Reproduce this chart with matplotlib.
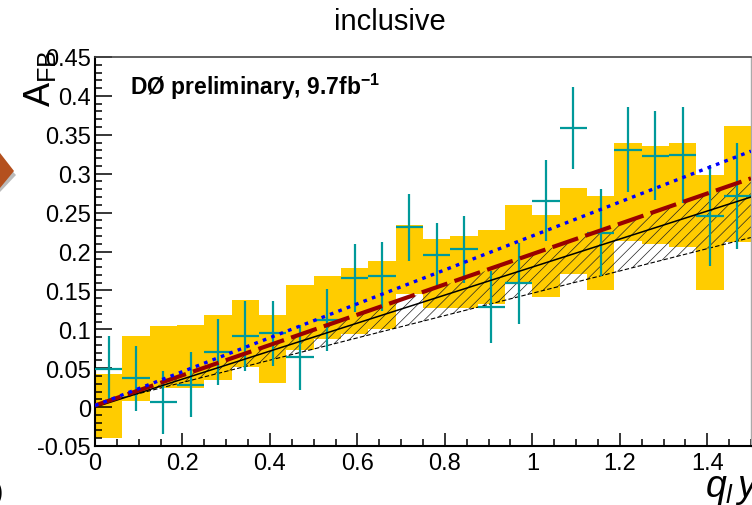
import numpy as np
import matplotlib
matplotlib.use("Agg")
import matplotlib.pyplot as plt
from matplotlib.ticker import MultipleLocator, FuncFormatter
from matplotlib.patches import Polygon

plt.rcParams['font.family'] = ['Liberation Sans', 'DejaVu Sans']
plt.rcParams['mathtext.fontset'] = 'custom'
plt.rcParams['mathtext.rm'] = 'Liberation Sans'
plt.rcParams['mathtext.it'] = 'Liberation Sans:italic'
plt.rcParams['mathtext.bf'] = 'Liberation Sans:bold'
plt.rcParams['hatch.linewidth'] = 0.5

# q_l*y_l bins (width 0.0625)
bin_width = 0.0625
bin_centers = [0.03125, 0.09375, 0.15625, 0.21875, 0.28125, 0.34375, 0.40625, 0.46875,
               0.53125, 0.59375, 0.65625, 0.71875, 0.78125, 0.84375, 0.90625, 0.96875,
               1.03125, 1.09375, 1.15625, 1.21875, 1.28125, 1.34375, 1.40625, 1.46875]

# measured A_FB with stat. errors
data_y = [0.049, 0.037, 0.006, 0.029, 0.071, 0.091, 0.095, 0.064,
          0.112, 0.166, 0.168, 0.231, 0.196, 0.203, 0.129, 0.159,
          0.265, 0.359, 0.224, 0.331, 0.323, 0.324, 0.246, 0.271]
data_err = [0.042, 0.042, 0.041, 0.042, 0.042, 0.045, 0.042, 0.042,
            0.040, 0.044, 0.044, 0.043, 0.041, 0.043, 0.046, 0.052,
            0.052, 0.053, 0.056, 0.055, 0.057, 0.062, 0.065, 0.068]

# yellow band (low / high edge per bin)
band_lo = [-0.040, 0.008, 0.024, 0.024, 0.035, 0.051, 0.031, 0.073,
           0.088, 0.094, 0.100, 0.146, 0.127, 0.128, 0.132, 0.158,
           0.142, 0.171, 0.151, 0.214, 0.210, 0.206, 0.151, 0.212]
band_hi = [0.043, 0.091, 0.104, 0.106, 0.118, 0.138, 0.118, 0.157,
           0.169, 0.179, 0.188, 0.234, 0.216, 0.220, 0.228, 0.260,
           0.247, 0.282, 0.271, 0.340, 0.336, 0.340, 0.298, 0.361]

# linear predictions
fit_x = [0.0, 1.5]
sm_y = [0.0, 0.270]
hatch_lo = [0.003, 0.218]
hatch_hi = [0.0, 0.294]
red_y = [0.002, 0.294]
blue_y = [0.002, 0.329]

W, H = 752, 506
fig = plt.figure(figsize=(W / 100, H / 100), dpi=100)
ax = fig.add_axes([95 / W, (H - 447) / H, 656 / W, 389 / H])

lo = np.array(band_lo)
hi = np.array(band_hi)
ax.bar(bin_centers, hi - lo, bottom=lo, width=bin_width, color='#ffcc00',
       edgecolor='none', linewidth=0, zorder=1)

ax.fill_between(fit_x, hatch_lo, hatch_hi, facecolor='none', edgecolor='#222222',
                hatch='///', linewidth=0, zorder=2)
ax.plot(fit_x, hatch_lo, color='black', lw=0.8, dashes=(4, 2), zorder=2.2)

ax.errorbar(bin_centers, data_y, yerr=data_err, xerr=bin_width / 2, fmt='none',
            ecolor='#00999a', elinewidth=1.6, capsize=0, zorder=3)

ax.plot(fit_x, sm_y, color='black', lw=1.1, zorder=4)
ax.plot(fit_x, red_y, color='#990000', lw=3.0, dashes=(6.5, 1.8),
        solid_capstyle='butt', dash_capstyle='butt', zorder=5)
ax.plot(fit_x, blue_y, color='#0000ff', lw=2.4, dashes=(1.1, 1.6),
        dash_capstyle='butt', zorder=6)

ax.set_xlim(0, 1.5)
ax.set_ylim(-0.05, 0.45)

ax.xaxis.set_major_locator(MultipleLocator(0.2))
ax.xaxis.set_minor_locator(MultipleLocator(0.05))
ax.yaxis.set_major_locator(MultipleLocator(0.05))
ax.yaxis.set_minor_locator(MultipleLocator(0.01))
fmt = FuncFormatter(lambda v, p: '%g' % round(v, 3))
ax.xaxis.set_major_formatter(fmt)
ax.yaxis.set_major_formatter(fmt)

ax.tick_params(axis='both', which='both', direction='in', top=False, right=False,
               width=1.1, labelsize=17, colors='black')
ax.tick_params(axis='x', which='major', length=9.5, pad=4)
ax.tick_params(axis='x', which='minor', length=4.8)
ax.tick_params(axis='y', which='major', length=12, pad=3)
ax.tick_params(axis='y', which='minor', length=4.8)

ax.spines['left'].set_linewidth(1.5)
ax.spines['bottom'].set_linewidth(1.5)
ax.spines['top'].set_color('#444444')
ax.spines['top'].set_linewidth(1.2)
ax.spines['right'].set_color('#aaaaaa')
ax.spines['right'].set_linewidth(1.0)

fig.text(130 / W, (H - 95) / H, r'DØ preliminary, 9.7fb$^{\mathbf{-1}}$', fontsize=16.5,
         fontweight='bold', ha='left', va='baseline')

fig.text(390 / W, (H - 29.5) / H, 'inclusive', fontsize=21, ha='center', va='baseline')
fig.text(39.5 / W, (H - 50) / H, r'$\mathrm{A}_{\mathrm{FB}}$', rotation=90,
         ha='center', va='top', fontsize=26)
fig.text(705 / W, (H - 497) / H, r'$q_l\,y_l$', fontsize=27, ha='left', va='baseline')

# slide arrow peeking in from the left, and a stray bracket below
shadow = Polygon([(0, H - 159), (16, H - 176), (0, H - 193)], closed=True,
                 facecolor='#bbbbbb', edgecolor='none', transform=None)
arrow = Polygon([(0, H - 154), (14, H - 172), (0, H - 189)], closed=True,
                facecolor='#b4501e', edgecolor='none', transform=None)
fig.patches.extend([shadow, arrow])
fig.text(-6 / W, (H - 506) / H, ')', fontsize=20, ha='left', va='bottom')

fig.savefig('out.png', dpi=100)
